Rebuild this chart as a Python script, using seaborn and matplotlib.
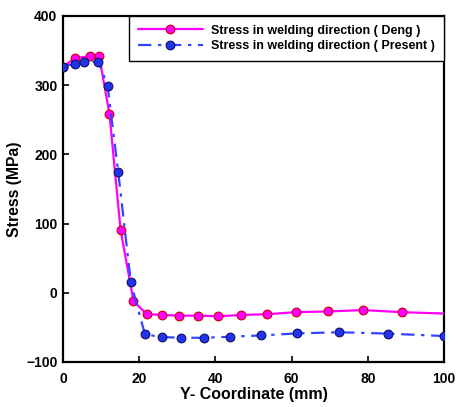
import matplotlib
matplotlib.use("Agg")
import matplotlib.pyplot as plt
import seaborn as sns
import pandas as pd

# Residual stress along the Y coordinate
deng_y = [0, 3.2, 7.1, 9.5, 12.2, 15.1, 18.5, 22.0, 26.1, 30.4, 35.4, 40.7, 46.8, 53.5, 61.1, 69.5, 78.7, 88.9, 100]
deng_s = [327, 339, 342, 342, 258, 91, -12, -31, -32, -33, -33, -34, -32, -31, -28, -27, -25, -28, -30]

present_y = [0, 3.1, 5.6, 9.3, 11.7, 14.5, 17.8, 21.5, 25.9, 31.0, 37.1, 43.9, 52.0, 61.5, 72.4, 85.3, 100]
present_s = [327, 331, 333, 334, 299, 174, 15, -60, -64, -65, -65, -63.5, -61.6, -58.7, -57, -59, -62.5]

label_deng = "Stress in welding direction ( Deng )"
label_present = "Stress in welding direction ( Present )"

x_ticks = [0, 20, 40, 60, 80, 100]
y_ticks = [-100, 0, 100, 200, 300, 400]

sns.set_style("ticks")
plt.rcParams["font.family"] = ["Liberation Sans", "DejaVu Sans"]
plt.rcParams["font.weight"] = "bold"
for key in ("text.color", "axes.labelcolor", "xtick.color", "ytick.color", "axes.edgecolor"):
    plt.rcParams[key] = "black"

df_deng = pd.DataFrame({"y": deng_y, "s": deng_s})
df_present = pd.DataFrame({"y": present_y, "s": present_s})

fig = plt.figure(figsize=(4.58, 4.07), dpi=100)
ax = fig.add_axes([0.1376, 0.1106, 0.8318, 0.8501])

sns.lineplot(data=df_deng, x="y", y="s", ax=ax, sort=False, color="#ff00ff",
             linewidth=1.6, marker="o", markersize=6.3, markerfacecolor="#ff00ff",
             markeredgecolor="#cc0000", markeredgewidth=0.8, markevery=list(range(len(deng_y) - 1)),
             label=label_deng, zorder=3)
sns.lineplot(data=df_present, x="y", y="s", ax=ax, sort=False, color="#3344ff",
             linewidth=1.6, marker="o", markersize=6.3, markerfacecolor="#2233ee",
             markeredgecolor="#101060", markeredgewidth=0.8,
             dashes=False, label=label_present, zorder=4)
ax.lines[-1].set_linestyle((0, (6, 3, 1.5, 3)))

ax.set_xlim(0, 100)
ax.set_ylim(-100, 400)
ax.set_xticks(x_ticks)
ax.set_yticks(y_ticks)
ax.tick_params(axis="x", direction="in", length=4, width=1.2, labelsize=10, pad=7, colors="black")
ax.tick_params(axis="y", direction="in", length=4, width=1.2, labelsize=10, pad=4, colors="black")
for lab in ax.get_xticklabels() + ax.get_yticklabels():
    lab.set_fontweight("bold")
for sp in ax.spines.values():
    sp.set_linewidth(1.6)
    sp.set_color("black")

ax.set_xlabel("Y- Coordinate (mm)", fontsize=11.5, fontweight="bold", labelpad=1, color="black")
ax.set_ylabel("Stress (MPa)", fontsize=11.3, fontweight="bold", labelpad=3, color="black")

leg = ax.legend(loc="upper right", borderaxespad=0, fancybox=False, framealpha=1,
                edgecolor="black", prop={"size": 9, "weight": "bold"},
                handlelength=5.2, handletextpad=0.7, borderpad=0.7, labelspacing=0.3)
leg.get_frame().set_linewidth(1.0)
for t in leg.get_texts():
    t.set_color("black")

fig.savefig("out.png", dpi=100)
